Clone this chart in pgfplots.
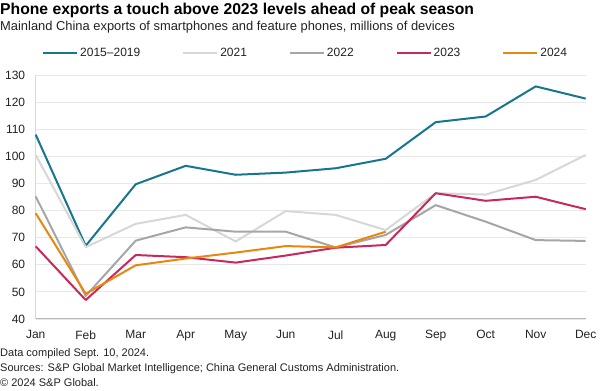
\documentclass[border=0pt]{standalone}
\usepackage{pgfplots}
\pgfplotsset{compat=1.18}
\usepackage{fontspec}
\setmainfont{Liberation Sans}
\definecolor{cTeal}{HTML}{15768E}
\definecolor{cLight}{HTML}{D7D7D7}
\definecolor{cGray}{HTML}{A6A6A6}
\definecolor{cRed}{HTML}{C8285C}
\definecolor{cOrange}{HTML}{E8870E}
\definecolor{cText}{HTML}{222222}
\definecolor{cGrid}{HTML}{E8E8E8}
\begin{document}
\begin{tikzpicture}[x=1pt,y=1pt]
\path[use as bounding box] (0,0) rectangle (600,391);
\node[anchor=base west, inner sep=0pt, font=\fontsize{15.7}{18}\selectfont\bfseries, text=black] at (0,391-15) {Phone exports a touch above 2023 levels ahead of peak season};
\node[anchor=base west, inner sep=0pt, font=\fontsize{12.9}{15}\selectfont, text=cText] at (0,391-31) {Mainland China exports of smartphones and feature phones, millions of devices};
\node[anchor=base west, inner sep=0pt, font=\fontsize{11}{13}\selectfont, text=cText] at (0,391-357) {Data compiled Sept. 10, 2024.};
\node[anchor=base west, inner sep=0pt, font=\fontsize{11}{13}\selectfont, text=cText] at (0,391-372) {Sources: S\&P Global Market Intelligence; China General Customs Administration.};
\node[anchor=base west, inner sep=0pt, font=\fontsize{11}{13}\selectfont, text=cText] at (0,391-387) {\textcopyright{} 2024 S\&P Global.};
\begin{axis}[
  at={(35.7pt,72pt)}, anchor=south west,
  scale only axis, width=550pt, height=244pt,
  xmin=0, xmax=11, ymin=40, ymax=130,
  xtick={0,...,11},
  xticklabels={Jan,Feb,Mar,Apr,May,Jun,Jul,Aug,Sep,Oct,Nov,Dec},
  ytick={40,50,...,130},
  /pgf/number format/assume math mode=true,
  tick label style={font=\fontsize{12}{14}\selectfont, text=cText},
  major tick length=0pt,
  yticklabel style={xshift=-7pt},
  xticklabel style={yshift=-8pt},
  ymajorgrids, grid style={cGrid, line width=0.8pt},
  axis line style={draw=none},
  clip=false,
  legend columns=5,
  legend style={draw=none, fill=none, inner sep=0pt, at={(rel axis cs:0.0115,1.09)}, anchor=west,
    font=\fontsize{12}{14}\selectfont, text=cText,
    nodes={inner xsep=2pt, inner ysep=0pt},
    /tikz/every even column/.append style={column sep=40pt}},
  legend image code/.code={\draw[#1, line width=2pt] (0pt,0pt) -- (34pt,0pt);},
  every axis plot/.append style={line width=2pt, mark=none, line join=round},
]
\draw[cLight, line width=1pt] (rel axis cs:0,0) -- (rel axis cs:0,1);
\draw[cGray!80, line width=1pt] (rel axis cs:0,0) -- (rel axis cs:1,0);
\addplot[cTeal] coordinates {(0,108) (1,67) (2,89.7) (3,96.5) (4,93.2) (5,94) (6,95.6) (7,99.1) (8,112.6) (9,114.7) (10,125.8) (11,121.3)};
\addlegendentry{2015--2019}
\addplot[cLight] coordinates {(0,100.5) (1,66.5) (2,75.1) (3,78.4) (4,68.6) (5,79.8) (6,78.4) (7,72.8) (8,86.4) (9,85.9) (10,91.3) (11,100.5)};
\addlegendentry{2021}
\addplot[cGray] coordinates {(0,85.2) (1,48.5) (2,68.9) (3,73.8) (4,72.2) (5,72.2) (6,66.4) (7,71) (8,82) (9,75.9) (10,69.1) (11,68.8)};
\addlegendentry{2022}
\addplot[cRed] coordinates {(0,66.8) (1,47) (2,63.6) (3,62.8) (4,60.8) (5,63.4) (6,66.3) (7,67.3) (8,86.4) (9,83.6) (10,85.1) (11,80.5)};
\addlegendentry{2023}
\addplot[cOrange] coordinates {(0,79) (1,49.3) (2,59.8) (3,62.3) (4,64.5) (5,66.9) (6,66.4) (7,72.2)};
\addlegendentry{2024}
\end{axis}
\end{tikzpicture}
\end{document}
